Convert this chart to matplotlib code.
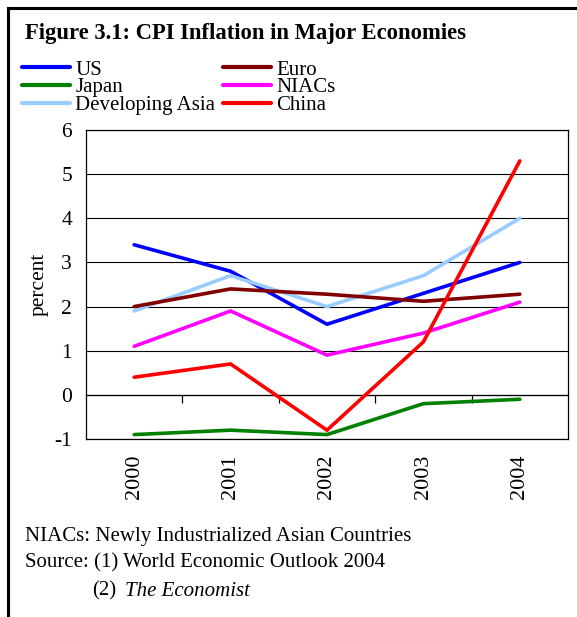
import matplotlib
matplotlib.use("Agg")
import matplotlib.pyplot as plt
from matplotlib.patches import Rectangle

years = ["2000", "2001", "2002", "2003", "2004"]
us = [3.4, 2.8, 1.6, 2.3, 3.0]
japan = [-0.9, -0.8, -0.9, -0.2, -0.1]
dev_asia = [1.9, 2.7, 2.0, 2.7, 4.0]
euro = [2.0, 2.4, 2.28, 2.12, 2.28]
niacs = [1.1, 1.9, 0.9, 1.4, 2.1]
china = [0.4, 0.7, -0.8, 1.2, 5.3]

series = [
    ("US", us, "#0000FF"),
    ("Japan", japan, "#008000"),
    ("Developing Asia", dev_asia, "#99CCFF"),
    ("Euro", euro, "#800000"),
    ("NIACs", niacs, "#FF00FF"),
    ("China", china, "#FF0000"),
]

plt.rcParams["font.family"] = ["Liberation Serif", "DejaVu Serif"]

W, H = 577, 617
fig = plt.figure(figsize=(W / 100, H / 100), dpi=100)

# outer frame
fig.patches.append(Rectangle((8 / W, -0.1), 1.2, (H - 8) / H + 0.1,
                             transform=fig.transFigure, fill=False,
                             edgecolor="black", linewidth=2.2, clip_on=False))

ax = fig.add_axes([86 / W, (H - 439) / H, (568 - 86) / W, (439 - 130) / H])
x = list(range(len(years)))
handles = {}
for name, vals, col in series:
    (ln,) = ax.plot(x, vals, color=col, linewidth=2.6, solid_capstyle="round",
                    solid_joinstyle="miter", label=name, zorder=3)
    handles[name] = ln

ax.set_xlim(-0.5, len(years) - 0.5)
ax.set_ylim(-1, 6)
ax.set_yticks(range(-1, 7))
ax.set_yticklabels([str(v) for v in range(-1, 7)])
ax.grid(axis="y", color="black", linewidth=0.8, zorder=1)
ax.set_xticks(x)
ax.set_xticklabels(years, rotation=90, va="top", ha="center")
ax.tick_params(axis="x", length=0, pad=11, labelsize=16)
ax.tick_params(axis="y", length=0, pad=10, labelsize=15.5)
for s in ax.spines.values():
    s.set_linewidth(0.9)
ax.set_ylabel("percent", fontsize=15.5, labelpad=4)

# zero line with category-boundary ticks
sec = ax.secondary_xaxis(1 / 7)
sec.set_xticks([i + 0.5 for i in range(len(years) - 1)])
sec.set_xticklabels([])
sec.tick_params(direction="out", length=6, width=0.9)
sec.spines["bottom"].set_linewidth(0.9)

fig.text(25 / W, (H - 33) / H, "Figure 3.1: CPI Inflation in Major Economies",
         fontsize=16.3, fontweight="bold", va="center", ha="left")

order = ["US", "Japan", "Developing Asia", "Euro", "NIACs", "China"]
leg = fig.legend([handles[n] for n in order], order, ncol=2, loc="upper left",
                 bbox_to_anchor=(22 / W, (H - 60) / H), frameon=False, fontsize=15,
                 handlelength=2.3, handletextpad=0.25, columnspacing=0.4,
                 labelspacing=-0.08, borderpad=0, borderaxespad=0)
for lh in leg.get_lines():
    lh.set_linewidth(3.0)

fs = 15
fig.text(25 / W, (H - 536) / H, "NIACs: Newly Industrialized Asian Countries",
         fontsize=fs, va="center", ha="left")
fig.text(25 / W, (H - 563) / H, "Source: (1) World Economic Outlook 2004",
         fontsize=fs, va="center", ha="left")
fig.text(92 / W, (H - 591) / H, "(2)", fontsize=fs, va="center", ha="left")
fig.text(125 / W, (H - 591) / H, "The Economist", fontsize=fs,
         fontstyle="italic", va="center", ha="left")

fig.savefig("out.png", dpi=100)
